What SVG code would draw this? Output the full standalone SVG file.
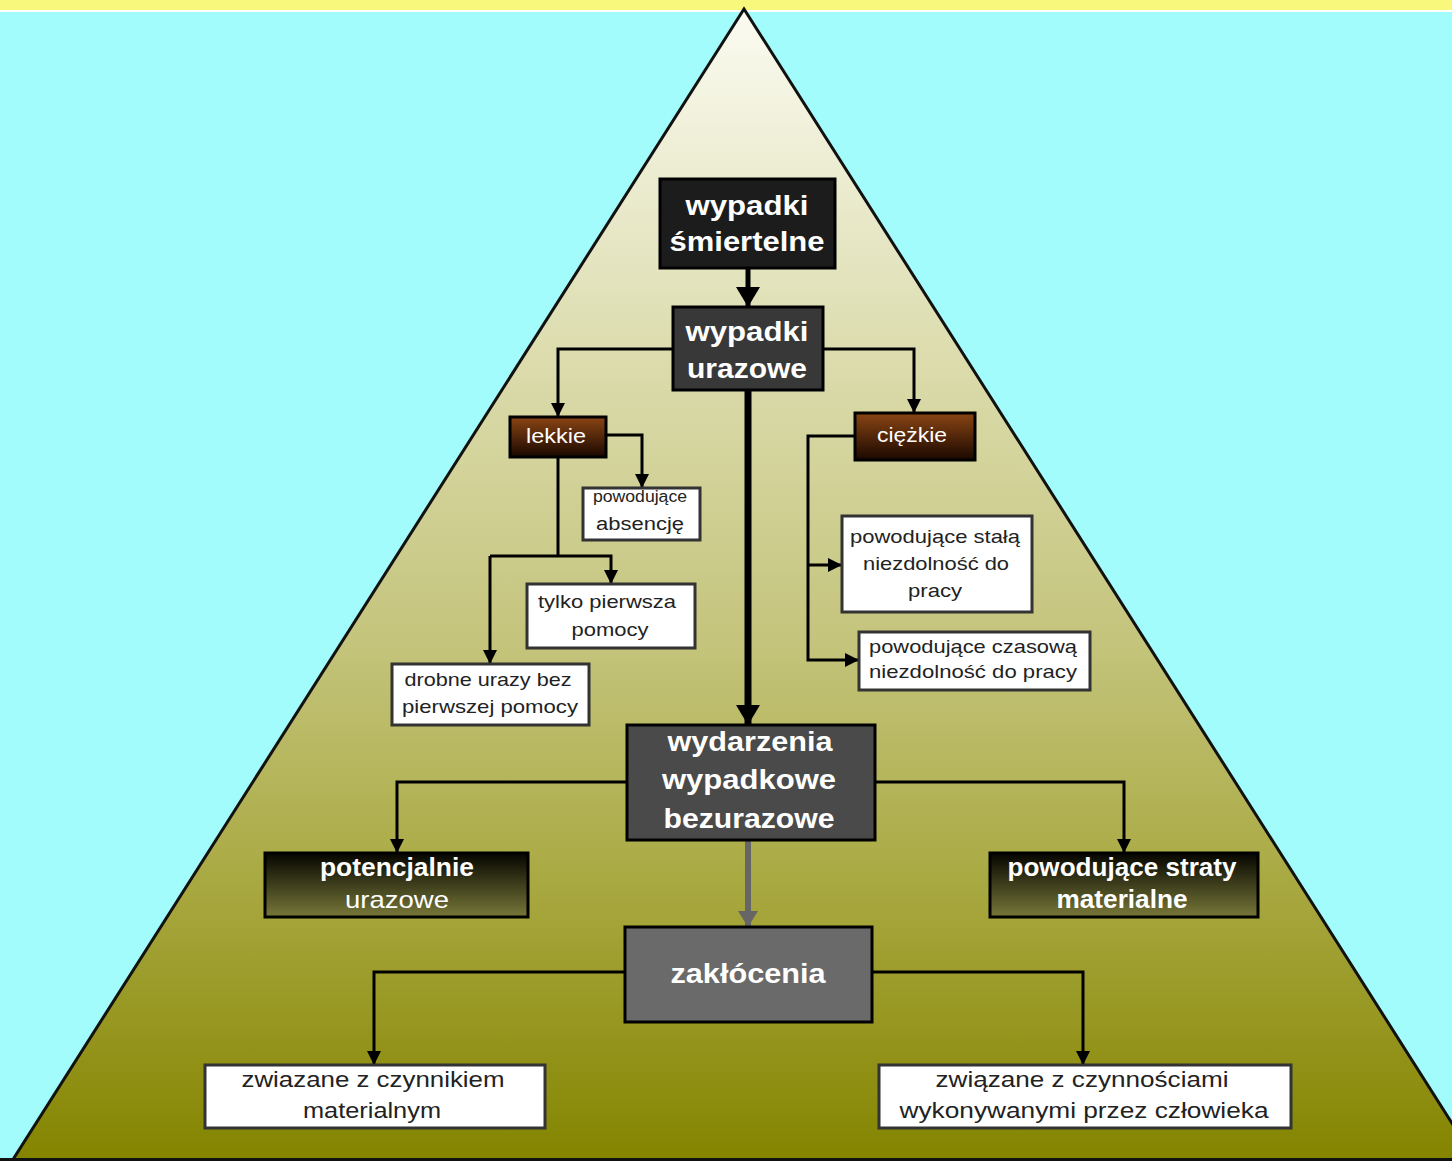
<svg xmlns="http://www.w3.org/2000/svg" width="1452" height="1161" viewBox="0 0 1452 1161">
<defs>
<linearGradient id="pyr" x1="0" y1="0" x2="0" y2="1">
<stop offset="0" stop-color="#fbfbf2"/>
<stop offset="0.3" stop-color="#dcdcae"/>
<stop offset="0.55" stop-color="#c4c47c"/>
<stop offset="0.75" stop-color="#aaaa44"/>
<stop offset="1" stop-color="#848400"/>
</linearGradient>
<linearGradient id="brown" x1="0" y1="0" x2="0" y2="1">
<stop offset="0" stop-color="#8a4514"/>
<stop offset="1" stop-color="#1a0800"/>
</linearGradient>
<linearGradient id="olive" x1="0" y1="0" x2="0" y2="1">
<stop offset="0" stop-color="#050500"/>
<stop offset="1" stop-color="#78783a"/>
</linearGradient>
<marker id="ah" markerWidth="14" markerHeight="14" refX="13" refY="7" orient="auto" markerUnits="userSpaceOnUse">
<path d="M0,0 L14,7 L0,14 Z" fill="#000"/>
</marker>
<marker id="ahb" markerWidth="20" markerHeight="24" refX="19" refY="12" orient="auto" markerUnits="userSpaceOnUse">
<path d="M0,0 L20,12 L0,24 Z" fill="#000"/>
</marker>
<marker id="ahg" markerWidth="16" markerHeight="20" refX="15" refY="10" orient="auto" markerUnits="userSpaceOnUse">
<path d="M0,0 L16,10 L0,20 Z" fill="#666"/>
</marker>
<style>
.big{font-family:"Liberation Sans",Arial,sans-serif;font-weight:bold;fill:#fff;text-anchor:middle}
.mid{font-family:"Liberation Sans",Arial,sans-serif;fill:#fff;text-anchor:middle}
.sm{font-family:"Liberation Sans",Arial,sans-serif;fill:#222;text-anchor:middle}
.dark{stroke:#000;stroke-width:3}
.wbox{fill:#fff;stroke:#333;stroke-width:3}
.c{fill:none;stroke:#000;stroke-width:3}
</style>
</defs>
<rect x="0" y="0" width="1452" height="1161" fill="#a2fcfc"/>
<rect x="0" y="0" width="1452" height="10" fill="#f8f87c"/>
<rect x="0" y="10" width="1452" height="2" fill="#ffffff"/>
<polygon points="744,9 12,1161 1476,1161" fill="url(#pyr)" stroke="#111" stroke-width="3"/>
<rect x="0" y="1158" width="1452" height="3" fill="#111"/>

<g id="connectors">
<line x1="748" y1="268" x2="748" y2="306" stroke="#000" stroke-width="5" marker-end="url(#ahb)"/>
<polyline class="c" points="673,349 558,349 558,416" marker-end="url(#ah)"/>
<polyline class="c" points="823,349 914,349 914,412" marker-end="url(#ah)"/>
<line x1="748" y1="390" x2="748" y2="724" stroke="#000" stroke-width="7" marker-end="url(#ahb)"/>
<polyline class="c" points="606,435 642,435 642,487" marker-end="url(#ah)"/>
<polyline class="c" points="558,457 558,556"/>
<polyline class="c" points="490,556 611,556 611,583" marker-end="url(#ah)"/>
<polyline class="c" points="490,556 490,663" marker-end="url(#ah)"/>
<polyline class="c" points="855,436 808,436 808,660 858,660" marker-end="url(#ah)"/>
<polyline class="c" points="808,565 841,565" marker-end="url(#ah)"/>
<polyline class="c" points="627,782 397,782 397,852" marker-end="url(#ah)"/>
<polyline class="c" points="875,782 1124,782 1124,852" marker-end="url(#ah)"/>
<line x1="748" y1="840" x2="748" y2="926" stroke="#666" stroke-width="6" marker-end="url(#ahg)"/>
<polyline class="c" points="625,972 374,972 374,1064" marker-end="url(#ah)"/>
<polyline class="c" points="872,972 1083,972 1083,1064" marker-end="url(#ah)"/>
</g>

<g id="n-smiertelne">
<rect x="660" y="179" width="175" height="89" fill="#1c1c1c" class="dark"/>
<text class="big" x="747" y="215" font-size="28" textLength="123" lengthAdjust="spacingAndGlyphs">wypadki</text>
<text class="big" x="747" y="251" font-size="28" textLength="155" lengthAdjust="spacingAndGlyphs">śmiertelne</text>
</g>
<g id="n-urazowe">
<rect x="673" y="307" width="150" height="83" fill="#383838" class="dark"/>
<text class="big" x="747" y="341" font-size="28" textLength="123" lengthAdjust="spacingAndGlyphs">wypadki</text>
<text class="big" x="747" y="378" font-size="28" textLength="120" lengthAdjust="spacingAndGlyphs">urazowe</text>
</g>
<g id="n-lekkie">
<rect x="510" y="417" width="96" height="40" fill="url(#brown)" class="dark"/>
<text class="mid" x="556" y="443" font-size="20" textLength="60" lengthAdjust="spacingAndGlyphs">lekkie</text>
</g>
<g id="n-ciezkie">
<rect x="855" y="413" width="120" height="47" fill="url(#brown)" class="dark"/>
<text class="mid" x="912" y="442" font-size="20" textLength="70" lengthAdjust="spacingAndGlyphs">ciężkie</text>
</g>
<g id="n-absencje">
<rect x="583" y="488" width="117" height="52" class="wbox"/>
<text class="sm" x="640" y="502" font-size="16" textLength="94" lengthAdjust="spacingAndGlyphs">powodujące</text>
<text class="sm" x="640" y="530" font-size="18" textLength="88" lengthAdjust="spacingAndGlyphs">absencję</text>
</g>
<g id="n-pierwsza">
<rect x="527" y="584" width="168" height="64" class="wbox"/>
<text class="sm" x="607" y="608" font-size="19" textLength="138" lengthAdjust="spacingAndGlyphs">tylko pierwsza</text>
<text class="sm" x="610" y="636" font-size="19" textLength="77" lengthAdjust="spacingAndGlyphs">pomocy</text>
</g>
<g id="n-drobne">
<rect x="392" y="664" width="197" height="61" class="wbox"/>
<text class="sm" x="488" y="686" font-size="19" textLength="167" lengthAdjust="spacingAndGlyphs">drobne urazy bez</text>
<text class="sm" x="490" y="713" font-size="19" textLength="176" lengthAdjust="spacingAndGlyphs">pierwszej pomocy</text>
</g>
<g id="n-stala">
<rect x="842" y="516" width="190" height="96" class="wbox"/>
<text class="sm" x="935" y="543" font-size="19" textLength="170" lengthAdjust="spacingAndGlyphs">powodujące stałą</text>
<text class="sm" x="936" y="570" font-size="19" textLength="146" lengthAdjust="spacingAndGlyphs">niezdolność do</text>
<text class="sm" x="935" y="597" font-size="19" textLength="54" lengthAdjust="spacingAndGlyphs">pracy</text>
</g>
<g id="n-czasowa">
<rect x="859" y="632" width="231" height="58" class="wbox"/>
<text class="sm" x="973" y="653" font-size="19" textLength="208" lengthAdjust="spacingAndGlyphs">powodujące czasową</text>
<text class="sm" x="973" y="678" font-size="19" textLength="208" lengthAdjust="spacingAndGlyphs">niezdolność do pracy</text>
</g>
<g id="n-wydarzenia">
<rect x="627" y="725" width="248" height="115" fill="#4a4a4a" class="dark"/>
<text class="big" x="750" y="751" font-size="28" textLength="165" lengthAdjust="spacingAndGlyphs">wydarzenia</text>
<text class="big" x="749" y="789" font-size="28" textLength="174" lengthAdjust="spacingAndGlyphs">wypadkowe</text>
<text class="big" x="749" y="828" font-size="28" textLength="171" lengthAdjust="spacingAndGlyphs">bezurazowe</text>
</g>
<g id="n-zaklocenia">
<rect x="625" y="927" width="247" height="95" fill="#6a6a6a" class="dark"/>
<text class="big" x="748" y="983" font-size="28" textLength="155" lengthAdjust="spacingAndGlyphs">zakłócenia</text>
</g>
<g id="n-potencjalnie">
<rect x="265" y="853" width="263" height="64" fill="url(#olive)" class="dark"/>
<text class="big" x="397" y="876" font-size="25" textLength="154" lengthAdjust="spacingAndGlyphs">potencjalnie</text>
<text class="mid" x="397" y="908" font-size="24" textLength="104" lengthAdjust="spacingAndGlyphs">urazowe</text>
</g>
<g id="n-straty">
<rect x="990" y="853" width="268" height="64" fill="url(#olive)" class="dark"/>
<text class="big" x="1122" y="876" font-size="25" textLength="229" lengthAdjust="spacingAndGlyphs">powodujące straty</text>
<text class="big" x="1122" y="908" font-size="25" textLength="131" lengthAdjust="spacingAndGlyphs">materialne</text>
</g>
<g id="n-czynnik">
<rect x="205" y="1065" width="340" height="63" class="wbox"/>
<text class="sm" x="373" y="1087" font-size="22" textLength="263" lengthAdjust="spacingAndGlyphs">zwiazane z czynnikiem</text>
<text class="sm" x="372" y="1118" font-size="22" textLength="138" lengthAdjust="spacingAndGlyphs">materialnym</text>
</g>
<g id="n-czlowiek">
<rect x="879" y="1065" width="412" height="63" class="wbox"/>
<text class="sm" x="1082" y="1087" font-size="22" textLength="293" lengthAdjust="spacingAndGlyphs">związane z czynnościami</text>
<text class="sm" x="1084" y="1118" font-size="22" textLength="369" lengthAdjust="spacingAndGlyphs">wykonywanymi przez człowieka</text>
</g>
</svg>
